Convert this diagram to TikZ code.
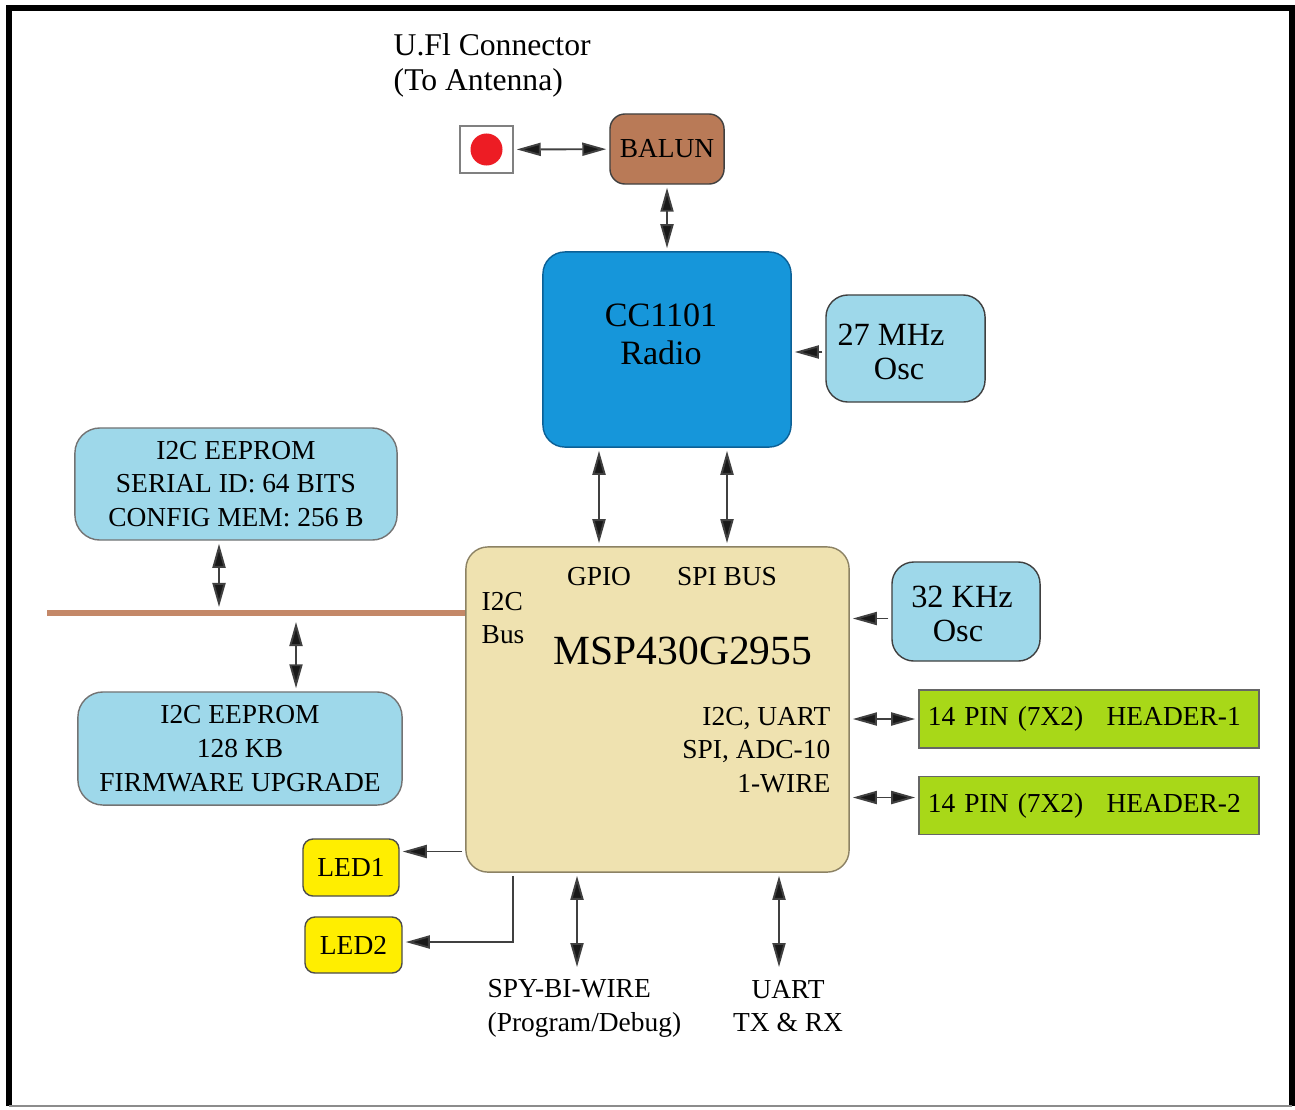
\documentclass[tikz,border=0pt]{standalone}
\usepackage{fontspec}
\setmainfont{Liberation Serif}
\usepackage{tikz}
\usetikzlibrary{arrows.meta, calc, positioning}

\definecolor{ufred}{RGB}{237,28,36}
\definecolor{balunbrown}{RGB}{185,122,87}
\definecolor{busbrown}{RGB}{196,136,104}
\definecolor{radioblue}{RGB}{22,150,218}
\definecolor{radioedge}{RGB}{12,96,150}
\definecolor{lightblue}{RGB}{158,216,234}
\definecolor{msptan}{RGB}{239,226,176}
\definecolor{mspedge}{RGB}{140,130,100}
\definecolor{hdrgreen}{RGB}{168,216,24}
\definecolor{ledyellow}{RGB}{255,238,0}

\tikzset{
    txt/.style={inner sep=0pt, font=\fontsize{7.8}{9.6}\selectfont},
    osctxt/.style={inner sep=0pt, align=center, font=\fontsize{9.2}{9.9}\selectfont},
    oscbox/.style={draw=black!75, fill=lightblue, rounded corners=0.22cm, inner sep=0pt},
    eeprombox/.style={txt, draw=black!55, fill=lightblue, rounded corners=0.25cm, align=center,
        minimum width=3.22cm, minimum height=1.12cm},
    hdrbox/.style={txt, draw=black!60, fill=hdrgreen, minimum width=3.4cm, minimum height=0.58cm,
        align=left, text width=3.22cm},
    ledbox/.style={txt, draw=black!70, fill=ledyellow, rounded corners=0.1cm,
        minimum width=0.96cm, minimum height=0.57cm},
    conn/.style={draw=black!75, line width=0.55pt, shorten >=0.03cm, shorten <=0.03cm},
    arr/.style={conn, ->},
    biarr/.style={conn, <->},
    bus/.style={busbrown, line width=1.7pt}
}

\begin{document}
\begin{tikzpicture}[x=0.01cm, y=-0.01cm, >={Triangle[length=2.4mm, width=1.3mm, fill=black!90]}]
    \useasboundingbox (0,0) rectangle (1295,1109);
    \draw[line width=1.7pt] (9,1106) -- (9,8) -- (1292,8) -- (1292,1106);
    \draw[black!45, line width=0.6pt] (9,1106) -- (1292,1106);

    \node[txt, align=left, anchor=west, font=\fontsize{9}{9.9}\selectfont] (ufl) at (393,65) {U.Fl Connector\\(To Antenna)};
    \node[draw=black!50, fill=white, minimum width=0.53cm, minimum height=0.47cm] (antconn) at (486.5,149.5) {};
    \fill[ufred] (antconn.center) circle (0.16cm);
    \node[txt, draw=black!75, fill=balunbrown, rounded corners=0.15cm, minimum width=1.14cm, minimum height=0.7cm] (balun) at (667,149) {BALUN};

    \node[draw=radioedge, fill=radioblue, rounded corners=0.22cm, minimum width=2.48cm, minimum height=1.95cm] (radio) at (667,349.5) {};
    \node[txt, align=center, font=\fontsize{9.7}{10.8}\selectfont] (radiotxt) at (661,334) {CC1101\\Radio};
    \node[oscbox, minimum width=1.59cm, minimum height=1.07cm] (osc27) at (905.5,348.5) {};
    \node[osctxt] (osc27txt) at (891,352) {27 MHz\\\ \ Osc};

    \node[eeprombox] (eeprom1) at (236,484) {I2C EEPROM\\SERIAL ID: 64 BITS\\CONFIG MEM: 256 B};
    \node[eeprombox, minimum width=3.24cm, minimum height=1.13cm] (eeprom2) at (240,748.5) {I2C EEPROM\\128 KB\\FIRMWARE UPGRADE};

    \node[draw=mspedge, fill=msptan, rounded corners=0.22cm, minimum width=3.83cm, minimum height=3.25cm] (msp) at (657.5,709.5) {};
    \node[txt] (gpio) at (599,577) {GPIO};
    \node[txt] (spibus) at (727,577) {SPI BUS};
    \node[txt, align=left, anchor=west] (i2cbus) at (481,618) {I2C\\Bus};
    \node[txt, font=\fontsize{11.8}{13}\selectfont] (mspname) at (683,651) {MSP430G2955};
    \node[txt, align=right, anchor=east] (periph) at (831,750) {I2C, UART\\SPI, ADC-10\\1-WIRE};

    \node[oscbox, minimum width=1.48cm, minimum height=0.99cm] (osc32) at (966,611.5) {};
    \node[osctxt] (osc32txt) at (962,614) {32 KHz\\Osc\ \ };
    \node[hdrbox] (hdr1) at (1089,719) {14 PIN (7X2)\hspace{0.85em}HEADER-1};
    \node[hdrbox] (hdr2) at (1089,805.5) {14 PIN (7X2)\hspace{0.85em}HEADER-2};

    \node[ledbox] (led1) at (351,867.5) {LED1};
    \node[ledbox, minimum width=0.97cm, minimum height=0.56cm] (led2) at (353.5,945) {LED2};

    \node[txt, align=left, anchor=west] (spy) at (487,1008) {SPY-BI-WIRE\\(Program/Debug)};
    \node[txt, align=center] (uart) at (788,1006) {UART\\TX \& RX};

    \draw[biarr] (antconn) -- (balun);
    \draw[biarr] (balun) -- (radio);
    \draw[arr] (osc27.west |- osc27txt) -- (osc27txt -| radio.east);
    \draw[biarr] (gpio |- radio.south) -- (gpio |- msp.north);
    \draw[biarr] (spibus |- radio.south) -- (spibus |- msp.north);

    \coordinate (busL) at (47,613);
    \coordinate (tapA) at (219,613);
    \coordinate (tapB) at (296,613);
    \draw[bus] (busL) -- (busL -| msp.west);
    \draw[biarr] (eeprom1.south -| tapA) -- ([yshift=0.03cm]tapA);
    \draw[biarr] ([yshift=-0.06cm]tapB) -- (eeprom2.north -| tapB);

    \coordinate (osc32in) at ($(osc32.west)+(0,7)$);
    \draw[arr] (osc32in) -- (osc32in -| msp.east);
    \draw[biarr] (msp.east |- hdr1.west) -- (hdr1.west);
    \coordinate (hdr2in) at ($(hdr2.west)+(0,-8)$);
    \draw[biarr] (msp.east |- hdr2in) -- (hdr2in);

    \coordinate (led1in) at ($(led1.east)+(0,-16)$);
    \draw[arr] (led1in -| msp.west) -- (led1in);
    \coordinate (ledtap) at (513,942);
    \draw[arr] (ledtap |- msp.south) -- (ledtap) -- (ledtap -| led2.east);

    \coordinate (spyin) at (577,970);
    \draw[biarr] (spyin |- msp.south) -- (spyin);
    \coordinate (uartin) at (779,970);
    \draw[biarr] (uartin |- msp.south) -- (uartin);
\end{tikzpicture}
\end{document}
